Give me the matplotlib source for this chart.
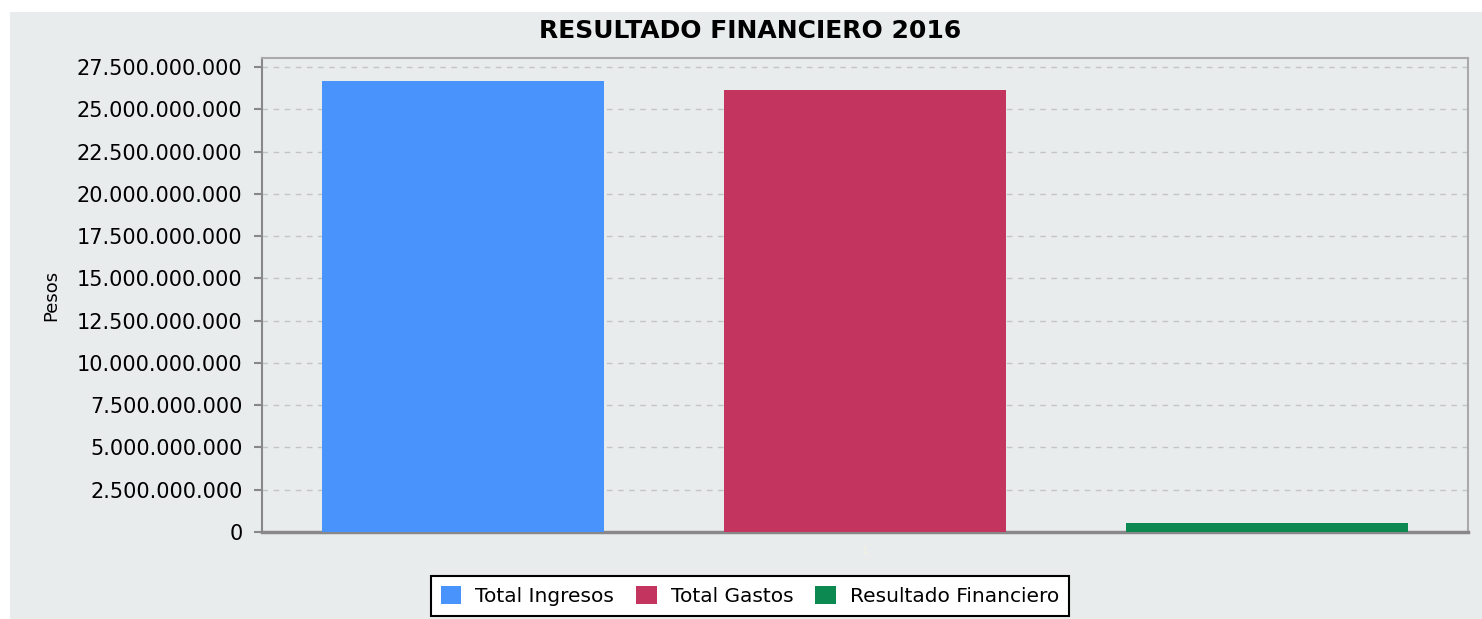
import matplotlib.pyplot as plt
from matplotlib.patches import Rectangle
from matplotlib.ticker import FuncFormatter

series = ["Total Ingresos", "Total Gastos", "Resultado Financiero"]
values = [26650000000, 26120000000, 530000000]
colors = ["#4894FC", "#C3345E", "#0C8950"]
yticks = [i * 2500000000 for i in range(12)]

bg = "#E9ECED"
fig = plt.figure(figsize=(14.82, 6.19), dpi=100)
fig.patch.set_facecolor("white")
fig.patches.append(Rectangle((10 / 1482, 0), 1 - 10 / 1482, 1 - 12 / 619,
                             transform=fig.transFigure, facecolor=bg,
                             edgecolor="none", zorder=-10))

ax = fig.add_axes([262 / 1482, 1 - 532 / 619, (1468 - 262) / 1482, (532 - 58) / 619])
ax.set_facecolor(bg)

for i in range(len(series)):
    ax.bar(i, values[i], width=0.7, color=colors[i], label=series[i], zorder=3)

ax.set_xlim(-0.5, 2.5)
ax.set_ylim(0, 28040000000)
ax.set_yticks(yticks)
ax.yaxis.set_major_formatter(FuncFormatter(lambda v, p: f"{int(v):,}".replace(",", ".")))
ax.tick_params(axis="y", labelsize=15, length=6, width=1.5, color="#888888", pad=8)
ax.set_xticks([1])
ax.set_xticklabels(["1"], fontsize=7, color="#F4F4DC")
ax.tick_params(axis="x", length=0, pad=10)
ax.grid(axis="y", linestyle=(0, (4, 4)), color="#C4C4C4", linewidth=1, zorder=0)

for s in ["top", "right"]:
    ax.spines[s].set_color("#AAAAAA")
    ax.spines[s].set_linewidth(1.5)
ax.spines["left"].set_color("#888888")
ax.spines["left"].set_linewidth(1.5)
ax.spines["bottom"].set_color("#888888")
ax.spines["bottom"].set_linewidth(2.5)

ax.set_ylabel("Pesos", fontsize=13, labelpad=12)
fig.text(750 / 1482, 1 - 31 / 619, "RESULTADO FINANCIERO 2016", ha="center", va="center",
         fontsize=18, fontweight="bold")

leg = fig.legend(loc="upper center", bbox_to_anchor=(750 / 1482, 1 - 566 / 619), ncol=3,
                 fontsize=14.5, frameon=True, fancybox=False, handlelength=1.0,
                 handleheight=1.0, handletextpad=0.7, columnspacing=1.1,
                 borderpad=0.5)
leg.get_frame().set_edgecolor("black")
leg.get_frame().set_linewidth(1.5)
leg.get_frame().set_facecolor("white")
leg.get_frame().set_alpha(1)

plt.savefig("out.png", dpi=100, facecolor=fig.get_facecolor())
